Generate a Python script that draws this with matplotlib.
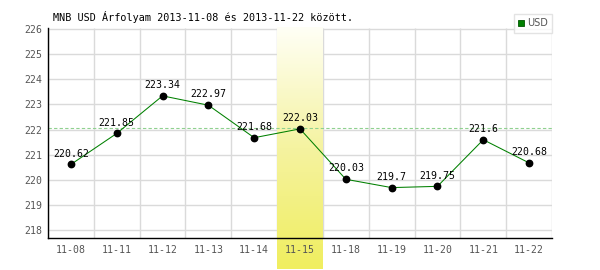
import numpy as np
import matplotlib
matplotlib.use("Agg")
import matplotlib.pyplot as plt
from matplotlib.colors import LinearSegmentedColormap
from matplotlib.lines import Line2D

TITLE = "MNB USD Árfolyam 2013-11-08 és 2013-11-22 között."
DATES = ["11-08", "11-11", "11-12", "11-13", "11-14", "11-15",
         "11-18", "11-19", "11-20", "11-21", "11-22"]
USD = [220.62, 221.85, 223.34, 222.97, 221.68, 222.03,
       220.03, 219.7, 219.75, 221.6, 220.68]
REF_LINE = 222.05
HIGHLIGHT = "11-15"
Y_TICKS = [218, 219, 220, 221, 222, 223, 224, 225, 226]

MONO = "DejaVu Sans Mono"
GRID = "#dadada"
TICK_COLOR = "#555555"

fig = plt.figure(figsize=(6, 2.7), dpi=100)
ax = fig.add_axes([0.08, 0.1185, 0.84, 0.7775])

x = np.arange(len(DATES))
ymin, ymax = 217.7, 226.03
xlo, xhi = -0.5, len(DATES) - 0.5

# grid as plain lines so the highlight band can sit above them
ax.hlines(Y_TICKS, xlo, xhi, color=GRID, linewidth=1, zorder=0.5)
ax.vlines(np.arange(len(DATES) + 1) - 0.5, ymin, ymax, color=GRID,
          linewidth=1, zorder=0.5)

# highlighted day, white -> yellow gradient, running below the axis
hi = DATES.index(HIGHLIGHT)
cmap = LinearSegmentedColormap.from_list("hl", ["#f0ee5f", "#f5f3a0", "#fffff6"])
grad = np.linspace(0, 1, 256).reshape(-1, 1)
ybot = ymin - 0.15 * (ymax - ymin)
ax.imshow(grad, cmap=cmap, origin="lower", aspect="auto",
          extent=(hi - 0.5, hi + 0.5, ybot, ymax), zorder=1, clip_on=False)

ax.axhline(REF_LINE, color="#8fd18f", linestyle=(0, (3, 2)), linewidth=0.8, zorder=2)
ax.plot(x, USD, color="#008000", linewidth=0.75, zorder=3)
ax.plot(x, USD, "o", color="black", markersize=4.6, zorder=4)

for xi, v in zip(x, USD):
    ax.annotate(f"{v:g}", (xi, v), xytext=(0, 4.2), textcoords="offset points",
                ha="center", va="bottom", fontsize=7.1, family=MONO,
                color="black", zorder=5)

ax.set_xlim(xlo, xhi)
ax.set_ylim(ymin, ymax)
ax.set_yticks(Y_TICKS)
ax.set_xticks(x)
ax.set_xticklabels(DATES)
ax.set_axisbelow(False)
ax.tick_params(axis="both", which="both", length=0, labelsize=7.1,
               labelcolor=TICK_COLOR)
ax.tick_params(axis="x", pad=5)
ax.tick_params(axis="y", pad=4)
for lab in ax.get_xticklabels() + ax.get_yticklabels():
    lab.set_family(MONO)

for side in ("top", "right"):
    ax.spines[side].set_visible(False)
for side in ("left", "bottom"):
    ax.spines[side].set_color("black")
    ax.spines[side].set_linewidth(1)
    ax.spines[side].set_zorder(6)

fig.text(53 / 600, 1 - 17 / 270, TITLE, fontsize=7.3, family=MONO,
         color="black", ha="left", va="center")

handle = Line2D([], [], marker="s", linestyle="none", markersize=5,
                markerfacecolor="#008000", markeredgecolor="#005500",
                markeredgewidth=0.6)
leg = ax.legend([handle], ["USD"], loc="upper right",
                bbox_to_anchor=(1.0, 1.068), frameon=True, fancybox=False,
                edgecolor="#dddddd", fontsize=7, handlelength=0.6,
                handletextpad=0.3, borderpad=0.45, borderaxespad=0)
leg.get_frame().set_linewidth(1)
for t in leg.get_texts():
    t.set_color(TICK_COLOR)

fig.savefig("out.png", dpi=100)
